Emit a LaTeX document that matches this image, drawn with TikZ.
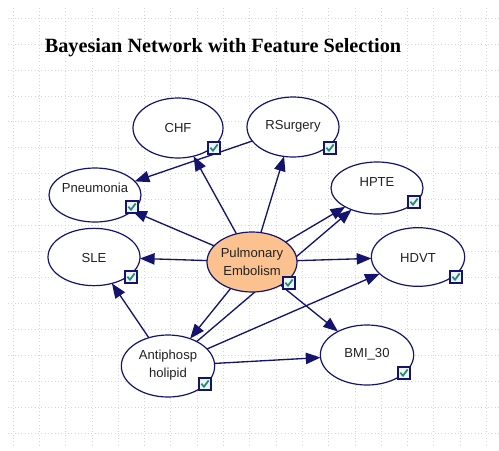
\documentclass[tikz,border=0pt]{standalone}
\usepackage{fontspec}
\setmainfont{Liberation Sans}
\newfontfamily\titlefont{Liberation Serif}
\usetikzlibrary{arrows.meta,shapes.geometric}
\pgfdeclarelayer{gridlayer}
\pgfdeclarelayer{edgelayer}
\pgfsetlayers{gridlayer,edgelayer,main}
\definecolor{navy}{HTML}{14146E}
\definecolor{peach}{HTML}{FBC290}
\definecolor{tickgreen}{HTML}{1E8C78}
\definecolor{boxfill}{HTML}{EEF4F4}
\definecolor{gridgray}{HTML}{D6D6D6}
\definecolor{txt}{HTML}{222222}
\newcommand\bnnode[6]{%
  \node[bn,#4] (#1) at (#2) {};
  \node[lbl] (#1t) at (#6) {#3};
  \node[chk] (#1c) at (#5) {};
  \draw[tick] (#1c.center) ++(-3.6,-0.3) -- ++(2.6,3) -- ++(4.6,-6.2);
}
\begin{document}
\begin{tikzpicture}[x=0.75pt,y=-0.75pt,
  bn/.style={ellipse,draw=navy,line width=0.9pt,fill=white,inner sep=0pt,outer sep=0pt,
             minimum width=69pt,minimum height=44pt},
  lbl/.style={font=\fontsize{9.8}{13.2}\selectfont,text=txt,align=center,inner sep=0pt},
  chk/.style={rectangle,draw=navy,fill=boxfill,line width=0.8pt,minimum size=9pt,inner sep=0pt},
  tick/.style={draw=tickgreen,line width=1.3pt},
  arr/.style={draw=navy,line width=1pt,-{Triangle[length=11pt,width=8.5pt]}},
  gridline/.style={draw=gridgray,line width=0.5pt,dotted}]
\useasboundingbox (0,0) rectangle (499,450);
\begin{pgfonlayer}{gridlayer}
  \fill[white] (0,0) rectangle (499,450);
  \foreach \i in {0,...,18} \draw[gridline] ({13+26.3*\i},8) -- ({13+26.3*\i},445);
  \foreach \j in {0,...,16} \draw[gridline] (8,{18+25.95*\j}) -- (499,{18+25.95*\j});
\end{pgfonlayer}

\node[font=\titlefont\bfseries\fontsize{15.2}{18}\selectfont,text=black,inner sep=0pt] (title) at (223,48) {Bayesian Network with Feature Selection};

\bnnode{chf}{178,128}{CHF}{minimum width=67.5pt,minimum height=45pt}{214,148}{178,128}
\bnnode{rsu}{293,127}{RSurgery}{minimum height=45pt}{330,148}{293,126}
\bnnode{pne}{95,195}{Pneumonia}{minimum height=40.5pt}{132,207}{95,188}
\bnnode{hpte}{377,188}{HPTE}{minimum height=39pt}{414,202}{377,182}
\bnnode{sle}{94,257}{SLE}{minimum height=43pt}{131,277}{94,258}
\bnnode{pe}{252,262}{Pulmonary\\Embolism}{fill=peach,minimum width=67.5pt,minimum height=45pt}{289,283}{252,262}
\bnnode{hdvt}{418,257}{HDVT}{minimum width=70pt,minimum height=44pt}{456,277}{418,258}
\bnnode{anti}{168,366}{Antiphosp\\holipid}{minimum width=70pt,minimum height=46.5pt}{205,384}{168,365}
\bnnode{bmi}{367,355}{BMI\_30}{minimum width=70pt,minimum height=45pt}{404,373}{367,354}

\begin{pgfonlayer}{edgelayer}
  \draw[arr] (pe) -- (chf);
  \draw[arr] (pe) -- (rsu);
  \draw[arr] (pe) -- (pne);
  \draw[arr] (pe) -- (sle);
  \draw[arr] (pe) -- (hpte);
  \draw[arr] (pe) -- (hdvt);
  \draw[arr] (pe) -- (bmi);
  \draw[arr] (pe) -- (anti);
  \draw[arr] (anti) -- (hpte);
  \draw[arr] (anti) -- (sle);
  \draw[arr] (anti) -- (hdvt);
  \draw[arr] (anti) -- (bmi);
  \draw[arr] (rsu) -- (pne);
\end{pgfonlayer}
\end{tikzpicture}
\end{document}
